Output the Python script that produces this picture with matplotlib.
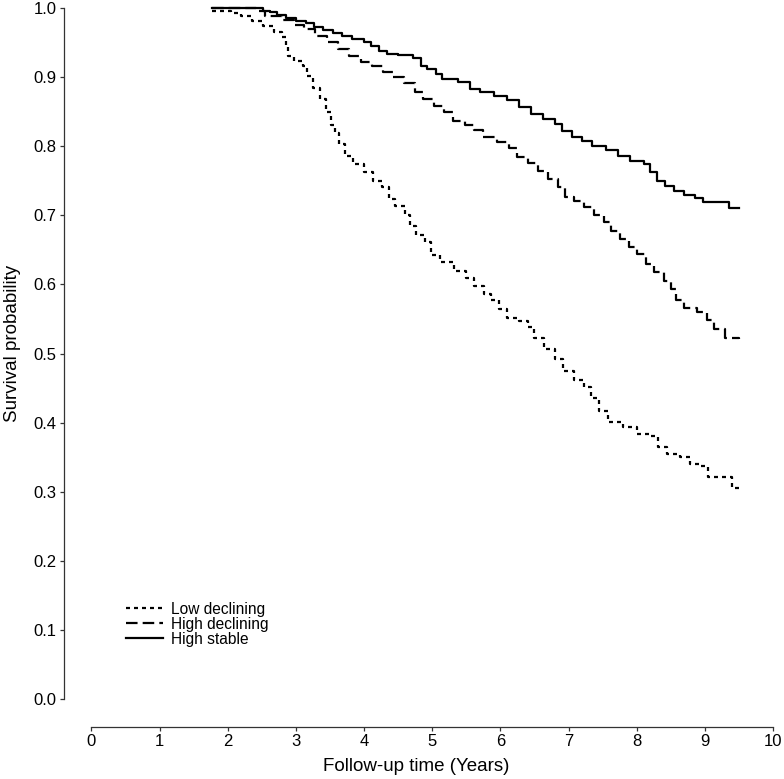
import matplotlib
matplotlib.use("Agg")
import matplotlib.pyplot as plt

plt.rcParams['font.family'] = ['Liberation Sans', 'DejaVu Sans']

# Kaplan-Meier style step curves, (time in years, survival from that time on)
low_t = [1.77, 2.05, 2.20, 2.35, 2.52, 2.68, 2.80, 2.85, 2.89, 2.98, 3.10, 3.17,
         3.25, 3.35, 3.44, 3.52, 3.57, 3.63, 3.72, 3.84, 4.00, 4.13, 4.27, 4.36,
         4.46, 4.60, 4.68, 4.76, 4.90, 4.99, 5.12, 5.32, 5.50, 5.62, 5.76, 5.86,
         5.98, 6.10, 6.28, 6.40, 6.50, 6.64, 6.80, 6.92, 7.08, 7.22, 7.33, 7.45,
         7.58, 7.80, 8.00, 8.20, 8.31, 8.45, 8.64, 8.78, 8.94, 9.05, 9.40, 9.50]
low_s = [0.995, 0.993, 0.988, 0.981, 0.974, 0.965, 0.958, 0.945, 0.930, 0.923, 0.916, 0.902,
         0.884, 0.868, 0.850, 0.830, 0.819, 0.803, 0.786, 0.774, 0.762, 0.750, 0.741, 0.724,
         0.713, 0.700, 0.684, 0.672, 0.661, 0.642, 0.633, 0.619, 0.610, 0.597, 0.586, 0.578,
         0.565, 0.552, 0.547, 0.539, 0.522, 0.507, 0.492, 0.474, 0.461, 0.451, 0.435, 0.417,
         0.401, 0.393, 0.384, 0.380, 0.364, 0.354, 0.350, 0.340, 0.337, 0.322, 0.305, 0.303]

hdec_t = [1.77, 2.42, 2.55, 2.80, 2.98, 3.12, 3.28, 3.45, 3.62, 3.78, 3.95, 4.12,
          4.28, 4.42, 4.58, 4.75, 4.87, 5.02, 5.18, 5.30, 5.48, 5.62, 5.74, 5.95,
          6.12, 6.25, 6.40, 6.55, 6.70, 6.85, 6.95, 7.08, 7.22, 7.38, 7.52, 7.63,
          7.75, 7.88, 8.00, 8.14, 8.26, 8.40, 8.50, 8.58, 8.70, 8.88, 9.03, 9.14,
          9.30, 9.50]
hdec_s = [1.000, 0.995, 0.988, 0.982, 0.976, 0.969, 0.960, 0.951, 0.941, 0.931, 0.922, 0.916,
          0.908, 0.900, 0.891, 0.879, 0.868, 0.858, 0.849, 0.837, 0.830, 0.824, 0.813, 0.806,
          0.798, 0.785, 0.775, 0.764, 0.752, 0.741, 0.727, 0.720, 0.712, 0.701, 0.690, 0.677,
          0.665, 0.654, 0.644, 0.630, 0.618, 0.605, 0.593, 0.578, 0.566, 0.560, 0.549, 0.536,
          0.522, 0.521]

hstab_t = [1.77, 2.52, 2.62, 2.72, 2.85, 3.00, 3.15, 3.26, 3.40, 3.55, 3.67, 3.82,
           4.00, 4.10, 4.22, 4.33, 4.50, 4.72, 4.83, 4.92, 5.05, 5.15, 5.38, 5.55,
           5.70, 5.90, 6.10, 6.28, 6.45, 6.62, 6.80, 6.90, 7.05, 7.20, 7.35, 7.55,
           7.72, 7.90, 8.10, 8.20, 8.30, 8.42, 8.55, 8.70, 8.85, 8.97, 9.35, 9.50]
hstab_s = [1.000, 0.996, 0.994, 0.990, 0.985, 0.981, 0.978, 0.972, 0.968, 0.964, 0.959, 0.955,
           0.951, 0.945, 0.938, 0.934, 0.932, 0.928, 0.916, 0.912, 0.905, 0.898, 0.893, 0.883,
           0.878, 0.873, 0.867, 0.857, 0.846, 0.840, 0.832, 0.822, 0.814, 0.808, 0.800, 0.794,
           0.786, 0.778, 0.774, 0.763, 0.750, 0.742, 0.735, 0.729, 0.725, 0.719, 0.710, 0.710]

labels = ['Low declining', 'High declining', 'High stable']
x_ticks = list(range(0, 11))
y_ticks = [i / 10 for i in range(0, 11)]

fig = plt.figure(figsize=(7.84, 7.79), dpi=100)
ax = fig.add_axes([0.1165, 0.1027, 0.8695, 0.887])

lw = 1.6
ax.step(low_t, low_s, where='post', color='black', lw=lw, dashes=(1.8, 1.8),
        label=labels[0], clip_on=False)
ax.step(hdec_t, hdec_s, where='post', color='black', lw=lw, dashes=(5.2, 2.3),
        label=labels[1], clip_on=False)
ax.step(hstab_t, hstab_s, where='post', color='black', lw=lw,
        label=labels[2], clip_on=False)

ax.set_xlim(0, 10)
ax.set_ylim(0, 1)
ax.set_xticks(x_ticks)
ax.set_yticks(y_ticks)
ax.set_yticklabels([f'{v:.1f}' for v in y_ticks])

for side in ['top', 'right']:
    ax.spines[side].set_visible(False)
ax.spines['left'].set_position(('outward', 20))
ax.spines['bottom'].set_position(('outward', 20))
ax.spines['left'].set_bounds(0, 1)
ax.spines['bottom'].set_bounds(0, 10)
for side in ['left', 'bottom']:
    ax.spines[side].set_linewidth(0.9)
    ax.spines[side].set_color('#333333')

ax.tick_params(axis='both', labelsize=12, length=3, width=0.9, color='#333333',
               pad=2)

ax.set_xlabel('Follow-up time (Years)', fontsize=13.5)
ax.set_ylabel('Survival probability', fontsize=13.5)
ax.xaxis.set_label_coords(0.476, -0.085)
ax.yaxis.set_label_coords(-0.103, 0.515)

ax.legend(loc='upper left', bbox_to_anchor=(0.051, 0.141), frameon=False,
          fontsize=11.2, handlelength=2.4, handletextpad=0.5, labelspacing=0.0,
          borderaxespad=0, borderpad=0)

fig.savefig('out.png', dpi=100)
